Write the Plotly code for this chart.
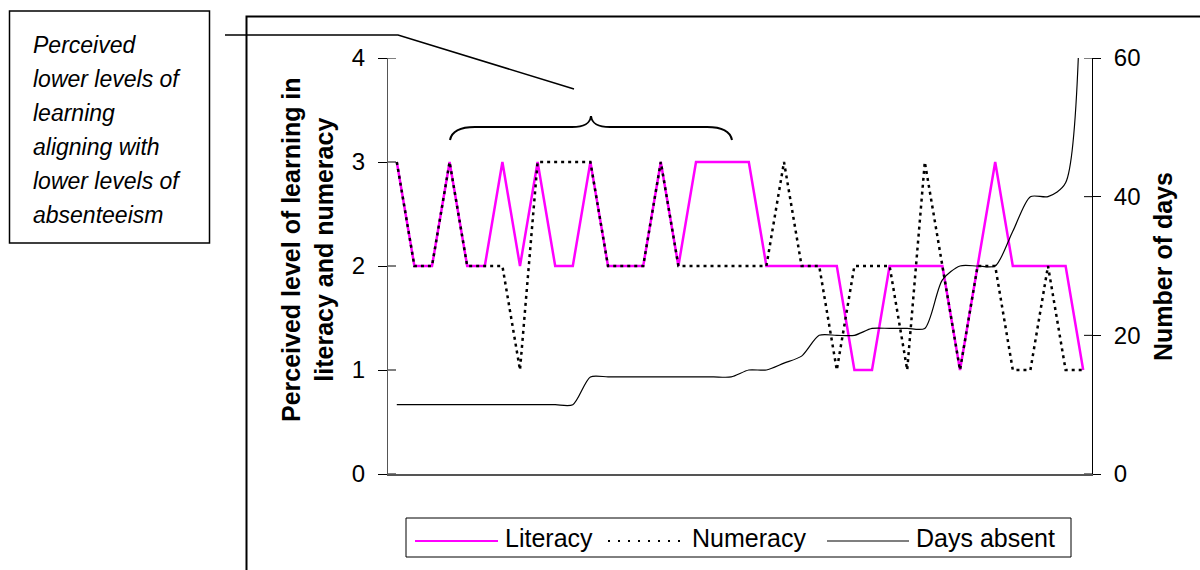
import plotly.graph_objects as go

# Pupils in the order they appear along the category axis
pupils = list(range(1, 41))

# Teacher-perceived learning level (0-4 scale)
literacy = [3, 2, 2, 3, 2, 2, 3, 2, 3, 2,
            2, 3, 2, 2, 2, 3, 2, 3, 3, 3,
            3, 2, 2, 2, 2, 2, 1, 1, 2, 2,
            2, 2, 1, 2, 3, 2, 2, 2, 2, 1]
numeracy = [3, 2, 2, 3, 2, 2, 2, 1, 3, 3,
            3, 3, 2, 2, 2, 3, 2, 2, 2, 2,
            2, 2, 3, 2, 2, 1, 2, 2, 2, 1,
            3, 2, 1, 2, 2, 1, 1, 2, 1, 1]

# Days absent (secondary axis, 0-60; the last pupil runs off the top)
days_absent = [10, 10, 10, 10, 10, 10, 10, 10, 10, 10,
               10, 14, 14, 14, 14, 14, 14, 14, 14, 14,
               15, 15, 16, 17, 20, 20, 20, 21, 21, 21,
               21, 28, 30, 30, 30, 35, 40, 40, 42, 120]

left_ticks = [0, 1, 2, 3, 4]
right_ticks = [0, 20, 40, 60]

FONT = "Liberation Sans, Arial, sans-serif"
W, H = 1200, 570
PL, PR, PT, PB = 388, 1092, 58, 474   # plot area in pixels


def fx(x):
    return (x - PL) / (PR - PL)


def fy(y):
    return (PB - y) / (PB - PT)


lit_line = dict(color="#FF00FF", width=2.5)
num_line = dict(color="black", width=2.5, dash="3px,4px")
days_line = dict(color="black", width=1.2, shape="spline", smoothing=0.75)

fig = go.Figure()
fig.add_trace(go.Scatter(x=pupils, y=literacy, mode="lines", name="Literacy",
                         line=lit_line, yaxis="y"))
fig.add_trace(go.Scatter(x=pupils, y=numeracy, mode="lines", name="Numeracy",
                         line=num_line, yaxis="y"))
fig.add_trace(go.Scatter(x=pupils, y=days_absent, mode="lines", name="Days absent",
                         line=days_line, yaxis="y2"))

shapes = []
annotations = []

# outer chart frame (runs off the right and bottom edges)
shapes.append(dict(type="rect", xref="paper", yref="paper",
                   x0=fx(246.5), x1=fx(1230), y0=fy(16.5), y1=fy(600),
                   line=dict(color="black", width=2)))

# inner half of the cross tick marks
for t in left_ticks:
    shapes.append(dict(type="line", xref="paper", yref="y",
                       x0=fx(PL), x1=fx(PL + 8), y0=t, y1=t,
                       line=dict(color="black", width=1)))
for t in right_ticks:
    shapes.append(dict(type="line", xref="paper", yref="y2",
                       x0=fx(PR - 8), x1=fx(PR), y0=t, y1=t,
                       line=dict(color="black", width=1)))

# callout text box
shapes.append(dict(type="rect", xref="paper", yref="paper",
                   x0=fx(9.5), x1=fx(209.5), y0=fy(11), y1=fy(243),
                   line=dict(color="black", width=1.5)))
callout = ["Perceived", "lower levels of", "learning", "aligning with",
           "lower levels of", "absenteeism"]
for i, txt in enumerate(callout):
    annotations.append(dict(text=f"<i>{txt}</i>", xref="paper", yref="paper",
                            x=fx(31), y=fy(45 + 34 * i), xanchor="left",
                            yanchor="middle", showarrow=False,
                            font=dict(family=FONT, size=23, color="black")))

# leader line from the text box to the brace
path = "M{},{} L{},{} L{},{}".format(fx(225), fy(35), fx(398), fy(35),
                                       fx(574), fy(89))
shapes.append(dict(type="path", xref="paper", yref="paper", path=path,
                   line=dict(color="black", width=1.5)))

# curly brace over the first group of pupils
pts = [(450, 140), (452, 130), (462, 127), (475, 127), (572, 127),
       (584, 127), (590, 124), (591, 116), (592, 124), (598, 127),
       (610, 127), (707, 127), (720, 127), (730, 130), (732, 140)]
p = [(fx(a), fy(b)) for a, b in pts]
brace = ("M{0[0]},{0[1]} C{1[0]},{1[1]} {2[0]},{2[1]} {3[0]},{3[1]} "
         "L{4[0]},{4[1]} C{5[0]},{5[1]} {6[0]},{6[1]} {7[0]},{7[1]} "
         "C{8[0]},{8[1]} {9[0]},{9[1]} {10[0]},{10[1]} "
         "L{11[0]},{11[1]} C{12[0]},{12[1]} {13[0]},{13[1]} {14[0]},{14[1]}"
         ).format(*p)
shapes.append(dict(type="path", xref="paper", yref="paper", path=brace,
                   line=dict(color="black", width=2)))

# axis titles
annotations.append(dict(text="<b>Perceived level of learning in</b><br><b>literacy and numeracy</b>",
                        xref="paper", yref="paper", x=fx(307), y=fy(250),
                        xanchor="center", yanchor="middle", textangle=-90,
                        showarrow=False,
                        font=dict(family=FONT, size=25, color="black")))
annotations.append(dict(text="<b>Number of days</b>", xref="paper", yref="paper",
                        x=fx(1163), y=fy(267), xanchor="center",
                        yanchor="middle", textangle=-90, showarrow=False,
                        font=dict(family=FONT, size=25, color="black")))

# legend box drawn by hand so the line samples have their full length
LY = 538
shapes.append(dict(type="rect", xref="paper", yref="paper",
                   x0=fx(406), x1=fx(1071), y0=fy(518), y1=fy(557),
                   line=dict(color="black", width=1)))
legend_items = [
    ("Literacy", 415, 498, dict(color=lit_line["color"], width=2)),
    ("Numeracy", 608, 685, dict(color="black", width=2, dash="2px,8px")),
    ("Days absent", 827, 909, dict(color="black", width=1.2)),
]
for name, a, b, ln in legend_items:
    shapes.append(dict(type="line", xref="paper", yref="paper",
                       x0=fx(a), x1=fx(b), y0=fy(LY + 3), y1=fy(LY + 3), line=ln))
    annotations.append(dict(text=name, xref="paper", yref="paper",
                            x=fx(b + 5), y=fy(LY), xanchor="left",
                            yanchor="middle", showarrow=False,
                            font=dict(family=FONT, size=25, color="black")))

fig.update_layout(
    width=W, height=H, autosize=False,
    margin=dict(l=PL, r=W - PR, t=PT, b=H - PB, pad=0),
    paper_bgcolor="white", plot_bgcolor="white",
    showlegend=False,
    font=dict(family=FONT, size=24, color="black"),
    xaxis=dict(range=[0.5, 40.5], showticklabels=False, ticks="",
               showgrid=False, zeroline=False, showline=True,
               linecolor="#555555", linewidth=1.5),
    yaxis=dict(range=[0, 4], tickvals=left_ticks, ticks="outside", ticklen=9,
               tickcolor="black", ticklabelstandoff=8, showgrid=False,
               zeroline=False, showline=True, linecolor="#555555", linewidth=1,
               tickfont=dict(family=FONT, size=24, color="black")),
    yaxis2=dict(range=[0, 60], tickvals=right_ticks, overlaying="y",
                side="right", ticks="outside", ticklen=8, tickcolor="black",
                ticklabelstandoff=8, showgrid=False, zeroline=False,
                showline=True, linecolor="black", linewidth=1,
                tickfont=dict(family=FONT, size=24, color="black")),
    shapes=shapes,
    annotations=annotations,
)

fig.write_html("out.html", config={"displayModeBar": False})
